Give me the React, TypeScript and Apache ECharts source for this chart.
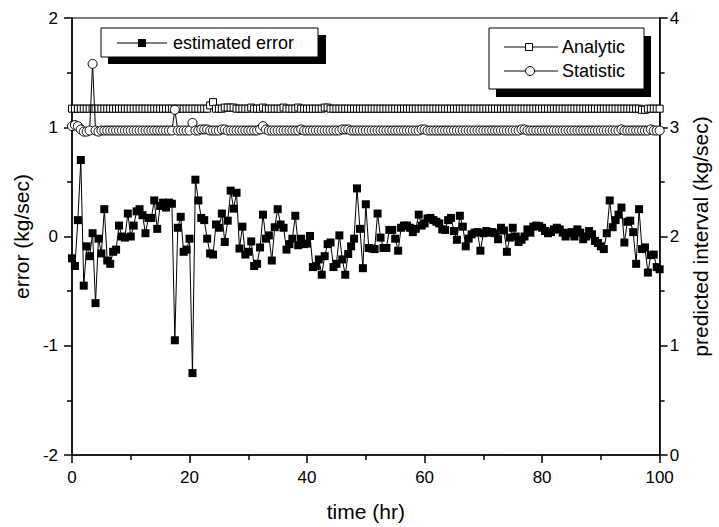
import React, { useEffect, useRef } from "react";
import * as echarts from "echarts";

// sampling step of the time series (hours)
const STEP_HR = 0.5;

// estimated error (kg/sec), left axis, one value every 0.5 hr from 0 to 100
const ERROR_VALUES = [
  -0.2, -0.27, 0.15, 0.7, -0.45, -0.09, -0.18, 0.03, -0.61, -0.02,
  -0.155, 0.25, -0.22, -0.25, -0.14, -0.12, 0.1, 0.0, -0.01, 0.21,
  0.0, 0.1, 0.23, 0.25, 0.195, 0.03, 0.17, 0.17, 0.33, 0.07,
  0.28, 0.31, 0.265, 0.31, 0.3, -0.95, 0.08, 0.18, -0.14, -0.12,
  -0.02, -1.25, 0.52, 0.33, 0.17, 0.15, -0.02, -0.155, -0.165, 0.11,
  0.08, 0.21, -0.05, 0.145, 0.42, 0.255, 0.4, -0.11, 0.09, -0.165,
  -0.14, -0.045, -0.27, -0.25, -0.1, 0.2, -0.02, 0.01, -0.22, 0.085,
  0.25, 0.11, 0.08, -0.12, -0.07, -0.02, 0.19, -0.08, -0.02, -0.07,
  -0.065, 0.005, -0.28, -0.27, -0.21, -0.35, -0.18, -0.07, -0.055, -0.28,
  -0.25, 0.01, -0.21, -0.35, -0.16, -0.09, -0.02, 0.44, 0.07, -0.29,
  0.295, -0.105, -0.11, -0.115, 0.21, -0.01, -0.105, -0.105, 0.06, 0.06,
  -0.02, -0.13, 0.08, 0.1, 0.1, 0.08, 0.04, 0.07, 0.2, 0.1,
  0.12, 0.165, 0.17, 0.15, 0.135, 0.12, 0.065, 0.06, 0.15, 0.17,
  0.05, -0.03, 0.19, 0.09, -0.09, -0.02, 0.02, 0.035, 0.04, -0.13,
  0.03, 0.05, 0.035, 0.04, 0.03, -0.025, 0.08, 0.055, -0.14, -0.01,
  0.08, 0.0, -0.05, -0.03, 0.0, 0.065, 0.035, 0.09, 0.1, 0.095,
  0.08, 0.05, 0.03, 0.04, 0.065, 0.08, 0.065, 0.035, 0.0, 0.03,
  0.04, 0.0, 0.065, 0.035, -0.025, 0.0, 0.05, 0.02, -0.04, -0.06,
  -0.09, -0.115, 0.03, 0.33, 0.085, 0.15, 0.2, 0.265, -0.055, 0.135,
  0.145, 0.04, -0.25, 0.25, -0.115, -0.1, -0.33, -0.17, -0.165, -0.28,
  -0.3,
];

// predicted interval (kg/sec), right axis
const ANALYTIC_VALUES = [
  3.17, 3.17, 3.17, 3.17, 3.17, 3.17, 3.17, 3.17, 3.17, 3.17,
  3.17, 3.17, 3.17, 3.17, 3.17, 3.17, 3.17, 3.17, 3.17, 3.17,
  3.17, 3.17, 3.17, 3.17, 3.17, 3.17, 3.17, 3.17, 3.17, 3.17,
  3.17, 3.17, 3.17, 3.17, 3.17, 3.17, 3.17, 3.17, 3.17, 3.17,
  3.17, 3.17, 3.17, 3.17, 3.17, 3.17, 3.17, 3.2, 3.23, 3.17,
  3.17, 3.17, 3.18, 3.18, 3.18, 3.18, 3.17, 3.17, 3.17, 3.17,
  3.17, 3.18, 3.17, 3.17, 3.17, 3.18, 3.17, 3.17, 3.17, 3.17,
  3.17, 3.17, 3.18, 3.17, 3.17, 3.17, 3.17, 3.18, 3.17, 3.17,
  3.17, 3.17, 3.17, 3.17, 3.17, 3.17, 3.18, 3.18, 3.17, 3.17,
  3.17, 3.17, 3.17, 3.17, 3.17, 3.17, 3.17, 3.17, 3.17, 3.17,
  3.17, 3.17, 3.17, 3.17, 3.17, 3.17, 3.17, 3.17, 3.17, 3.17,
  3.17, 3.17, 3.17, 3.17, 3.17, 3.17, 3.17, 3.17, 3.17, 3.17,
  3.17, 3.17, 3.17, 3.17, 3.17, 3.17, 3.17, 3.17, 3.17, 3.17,
  3.17, 3.17, 3.17, 3.17, 3.17, 3.17, 3.17, 3.17, 3.17, 3.17,
  3.17, 3.17, 3.17, 3.17, 3.17, 3.17, 3.17, 3.17, 3.17, 3.17,
  3.17, 3.17, 3.17, 3.17, 3.17, 3.17, 3.17, 3.17, 3.17, 3.17,
  3.17, 3.17, 3.17, 3.17, 3.17, 3.17, 3.17, 3.17, 3.17, 3.17,
  3.17, 3.17, 3.17, 3.17, 3.17, 3.17, 3.17, 3.17, 3.17, 3.17,
  3.17, 3.17, 3.17, 3.17, 3.17, 3.17, 3.17, 3.17, 3.17, 3.17,
  3.17, 3.17, 3.17, 3.17, 3.16, 3.16, 3.17, 3.17, 3.17, 3.17,
  3.17,
];

const STATISTIC_VALUES = [
  3.01, 3.02, 3.01, 2.98, 2.96, 2.96, 2.97, 3.58, 2.97, 2.96,
  2.97, 2.97, 2.97, 2.97, 2.97, 2.97, 2.97, 2.97, 2.97, 2.97,
  2.97, 2.97, 2.97, 2.97, 2.97, 2.97, 2.97, 2.97, 2.97, 2.97,
  2.97, 2.97, 2.97, 2.97, 2.97, 3.16, 2.97, 2.97, 2.97, 2.97,
  2.97, 3.04, 2.97, 2.97, 2.98, 2.98, 2.98, 2.97, 2.97, 2.97,
  2.97, 2.98, 2.98, 2.97, 2.97, 2.97, 2.97, 2.97, 2.97, 2.97,
  2.97, 2.97, 2.97, 2.97, 2.98, 3.01, 2.98, 2.97, 2.97, 2.97,
  2.97, 2.97, 2.97, 2.97, 2.97, 2.97, 2.97, 2.97, 2.98, 2.97,
  2.97, 2.97, 2.97, 2.97, 2.97, 2.97, 2.97, 2.97, 2.97, 2.97,
  2.97, 2.97, 2.98, 2.98, 2.98, 2.97, 2.97, 2.97, 2.97, 2.97,
  2.97, 2.97, 2.97, 2.97, 2.97, 2.97, 2.97, 2.97, 2.97, 2.97,
  2.97, 2.97, 2.97, 2.97, 2.97, 2.97, 2.97, 2.97, 2.97, 2.98,
  2.98, 2.97, 2.97, 2.97, 2.97, 2.97, 2.97, 2.97, 2.97, 2.97,
  2.97, 2.97, 2.97, 2.97, 2.97, 2.97, 2.97, 2.97, 2.97, 2.97,
  2.97, 2.97, 2.97, 2.97, 2.97, 2.97, 2.97, 2.97, 2.97, 2.97,
  2.97, 2.97, 2.97, 2.98, 2.98, 2.97, 2.97, 2.97, 2.97, 2.97,
  2.97, 2.97, 2.97, 2.97, 2.97, 2.97, 2.97, 2.97, 2.97, 2.97,
  2.97, 2.97, 2.97, 2.97, 2.97, 2.97, 2.97, 2.97, 2.97, 2.97,
  2.97, 2.97, 2.97, 2.97, 2.97, 2.97, 2.97, 2.98, 2.97, 2.97,
  2.97, 2.97, 2.97, 2.97, 2.97, 2.97, 2.97, 2.98, 2.97, 2.97,
  2.97,
];

const X_TICKS = { min: 0, max: 100, interval: 20 };
const Y_LEFT = { min: -2, max: 2, interval: 1 };
const Y_RIGHT = { min: 0, max: 4, interval: 1 };

const FONT = "'Liberation Sans', Arial, Helvetica, sans-serif";

const toPairs = (vals: number[]) => vals.map((v, i) => [i * STEP_HR, v]);

export default function App() {
  const ref = useRef<HTMLDivElement>(null);

  useEffect(() => {
    if (!ref.current) return;
    const chart = echarts.init(ref.current, null, { renderer: "svg" });

    const axisLine = { onZero: false, lineStyle: { color: "#000", width: 1.6 } };
    const axisTick = { show: true, inside: false, length: 8, lineStyle: { color: "#000", width: 1.5 } };
    const minorTick = { show: true, splitNumber: 2, length: 5, lineStyle: { color: "#000", width: 1.5 } };
    const labelStyle = { color: "#000", fontSize: 17, fontFamily: FONT };
    const nameStyle = { color: "#000", fontSize: 21, fontFamily: FONT };

    const option: any = {
      animation: false,
      backgroundColor: "#fff",
      textStyle: { fontFamily: FONT },
      grid: {
        left: 72,
        right: 52,
        top: 18,
        bottom: 71,
        show: true,
        borderColor: "#000",
        borderWidth: 1,
        backgroundColor: "transparent",
      },
      xAxis: {
        type: "value",
        ...X_TICKS,
        name: "time (hr)",
        nameLocation: "middle",
        nameGap: 46,
        nameTextStyle: nameStyle,
        axisLine,
        axisTick,
        minorTick,
        splitLine: { show: false },
        axisLabel: { ...labelStyle, margin: 14 },
      },
      yAxis: [
        {
          type: "value",
          position: "left",
          ...Y_LEFT,
          name: "error (kg/sec)",
          nameLocation: "middle",
          nameGap: 38,
          nameTextStyle: nameStyle,
          axisLine,
          axisTick,
          minorTick,
          splitLine: { show: false },
          axisLabel: { ...labelStyle, margin: 14 },
        },
        {
          type: "value",
          position: "right",
          ...Y_RIGHT,
          name: "predicted interval (kg/sec)",
          nameLocation: "middle",
          nameGap: 30,
          nameTextStyle: nameStyle,
          axisLine,
          axisTick,
          minorTick,
          splitLine: { show: false },
          axisLabel: { ...labelStyle, margin: 10 },
        },
      ],
      series: [
        {
          name: "estimated error",
          type: "line",
          yAxisIndex: 0,
          data: toPairs(ERROR_VALUES),
          symbol: "rect",
          symbolSize: 8,
          showAllSymbol: true,
          itemStyle: { color: "#000" },
          lineStyle: { color: "#000", width: 1 },
          z: 2,
        },
        {
          name: "Analytic",
          type: "line",
          yAxisIndex: 1,
          data: toPairs(ANALYTIC_VALUES),
          symbol: "rect",
          symbolSize: 7,
          showAllSymbol: true,
          itemStyle: { color: "#fff", borderColor: "#000", borderWidth: 1 },
          lineStyle: { color: "#000", width: 1 },
          z: 3,
        },
        {
          name: "Statistic",
          type: "line",
          yAxisIndex: 1,
          data: toPairs(STATISTIC_VALUES),
          symbol: "circle",
          symbolSize: 9,
          showAllSymbol: true,
          itemStyle: { color: "#fff", borderColor: "#000", borderWidth: 1 },
          lineStyle: { color: "#000", width: 1 },
          z: 4,
        },
      ],
      graphic: [
        // legend box 1: estimated error
        { type: "rect", z: 50, shape: { x: 108, y: 35, width: 218, height: 29 }, style: { fill: "#000" } },
        { type: "rect", z: 51, shape: { x: 101, y: 28, width: 217, height: 29 }, style: { fill: "#fff", stroke: "#000", lineWidth: 1 } },
        { type: "line", z: 52, shape: { x1: 117, y1: 43, x2: 167, y2: 43 }, style: { stroke: "#000", lineWidth: 1 } },
        { type: "rect", z: 53, shape: { x: 138, y: 39, width: 8, height: 8 }, style: { fill: "#000" } },
        {
          type: "text", z: 53, x: 173, y: 43,
          style: { text: "estimated error", fill: "#000", font: `18px ${FONT}`, verticalAlign: "middle", align: "left" },
        },
        // legend box 2: Analytic / Statistic
        { type: "rect", z: 50, shape: { x: 496, y: 36, width: 155, height: 61 }, style: { fill: "#000" } },
        { type: "rect", z: 51, shape: { x: 489, y: 28, width: 155, height: 61 }, style: { fill: "#fff", stroke: "#000", lineWidth: 1 } },
        { type: "line", z: 52, shape: { x1: 504, y1: 47, x2: 558, y2: 47 }, style: { stroke: "#000", lineWidth: 1 } },
        { type: "rect", z: 53, shape: { x: 525.5, y: 43.5, width: 7, height: 7 }, style: { fill: "#fff", stroke: "#000", lineWidth: 1 } },
        {
          type: "text", z: 53, x: 562, y: 47,
          style: { text: "Analytic", fill: "#000", font: `18px ${FONT}`, verticalAlign: "middle", align: "left" },
        },
        { type: "line", z: 52, shape: { x1: 504, y1: 71, x2: 558, y2: 71 }, style: { stroke: "#000", lineWidth: 1 } },
        { type: "circle", z: 53, shape: { cx: 530, cy: 71, r: 4.5 }, style: { fill: "#fff", stroke: "#000", lineWidth: 1 } },
        {
          type: "text", z: 53, x: 562, y: 71,
          style: { text: "Statistic", fill: "#000", font: `18px ${FONT}`, verticalAlign: "middle", align: "left" },
        },
      ],
    };

    chart.setOption(option);
    return () => chart.dispose();
  }, []);

  return (
    <div
      ref={ref}
      style={{ position: "fixed", left: 0, top: 0, width: 719, height: 527, background: "#fff" }}
    />
  );
}
